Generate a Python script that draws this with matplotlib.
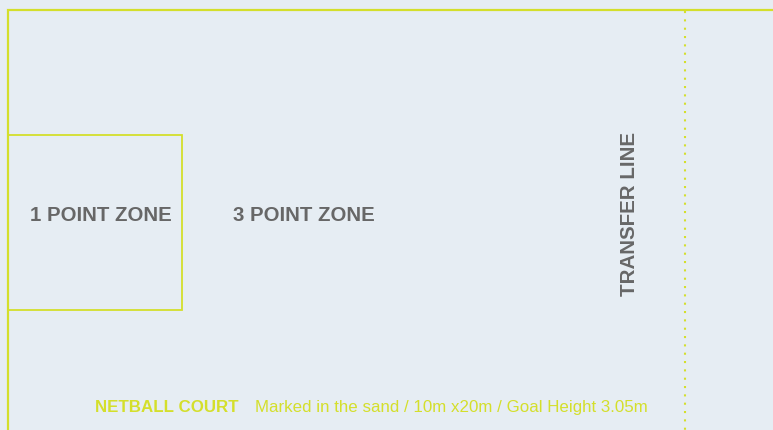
import matplotlib.pyplot as plt
from matplotlib.patches import Rectangle

# text content of the court diagram
zone_labels = ['1 POINT ZONE', '3 POINT ZONE']
transfer_label = 'TRANSFER LINE'
caption_title = 'NETBALL COURT'
caption_text = 'Marked in the sand / 10m x20m / Goal Height 3.05m'

bg = '#e6edf3'
lime = '#d4df2b'
grey = '#676767'

fig = plt.figure(figsize=(7.73, 4.30), dpi=100)
fig.patch.set_facecolor(bg)
ax = fig.add_axes([0, 0, 1, 1])
ax.set_facecolor(bg)
ax.set_xlim(0, 773)
ax.set_ylim(430, 0)
ax.axis('off')

# court outline (runs off to the right and bottom)
ax.plot([7.5, 7.5, 800], [460, 10, 10], color=lime, lw=1.6, solid_joinstyle='miter')

# 1 point zone box
ax.add_patch(Rectangle((7.5, 135), 174.5, 175, fill=False, edgecolor=lime, lw=1.3))

# transfer line, dotted
ax.plot([684.5, 684.5], [11, 440], color=lime, lw=1.5, linestyle=(0, (1, 3)))

font = ['Liberation Sans', 'DejaVu Sans']
ax.text(101, 215.5, zone_labels[0], ha='center', va='center', fontsize=14.7,
        fontweight='bold', color=grey, family=font)
ax.text(303.5, 215.5, zone_labels[1], ha='center', va='center', fontsize=14.7,
        fontweight='bold', color=grey, family=font)
ax.text(629.5, 214.5, transfer_label, ha='center', va='center', rotation=90,
        fontsize=14.8, fontweight='bold', color=grey, family=font)

ax.text(95, 407.5, caption_title, ha='left', va='center', fontsize=12.2,
        fontweight='bold', color=lime, family=font)
ax.text(255, 407.5, caption_text, ha='left', va='center', fontsize=12.2,
        color=lime, family=font)

fig.savefig('out.png', dpi=100, facecolor=bg)
